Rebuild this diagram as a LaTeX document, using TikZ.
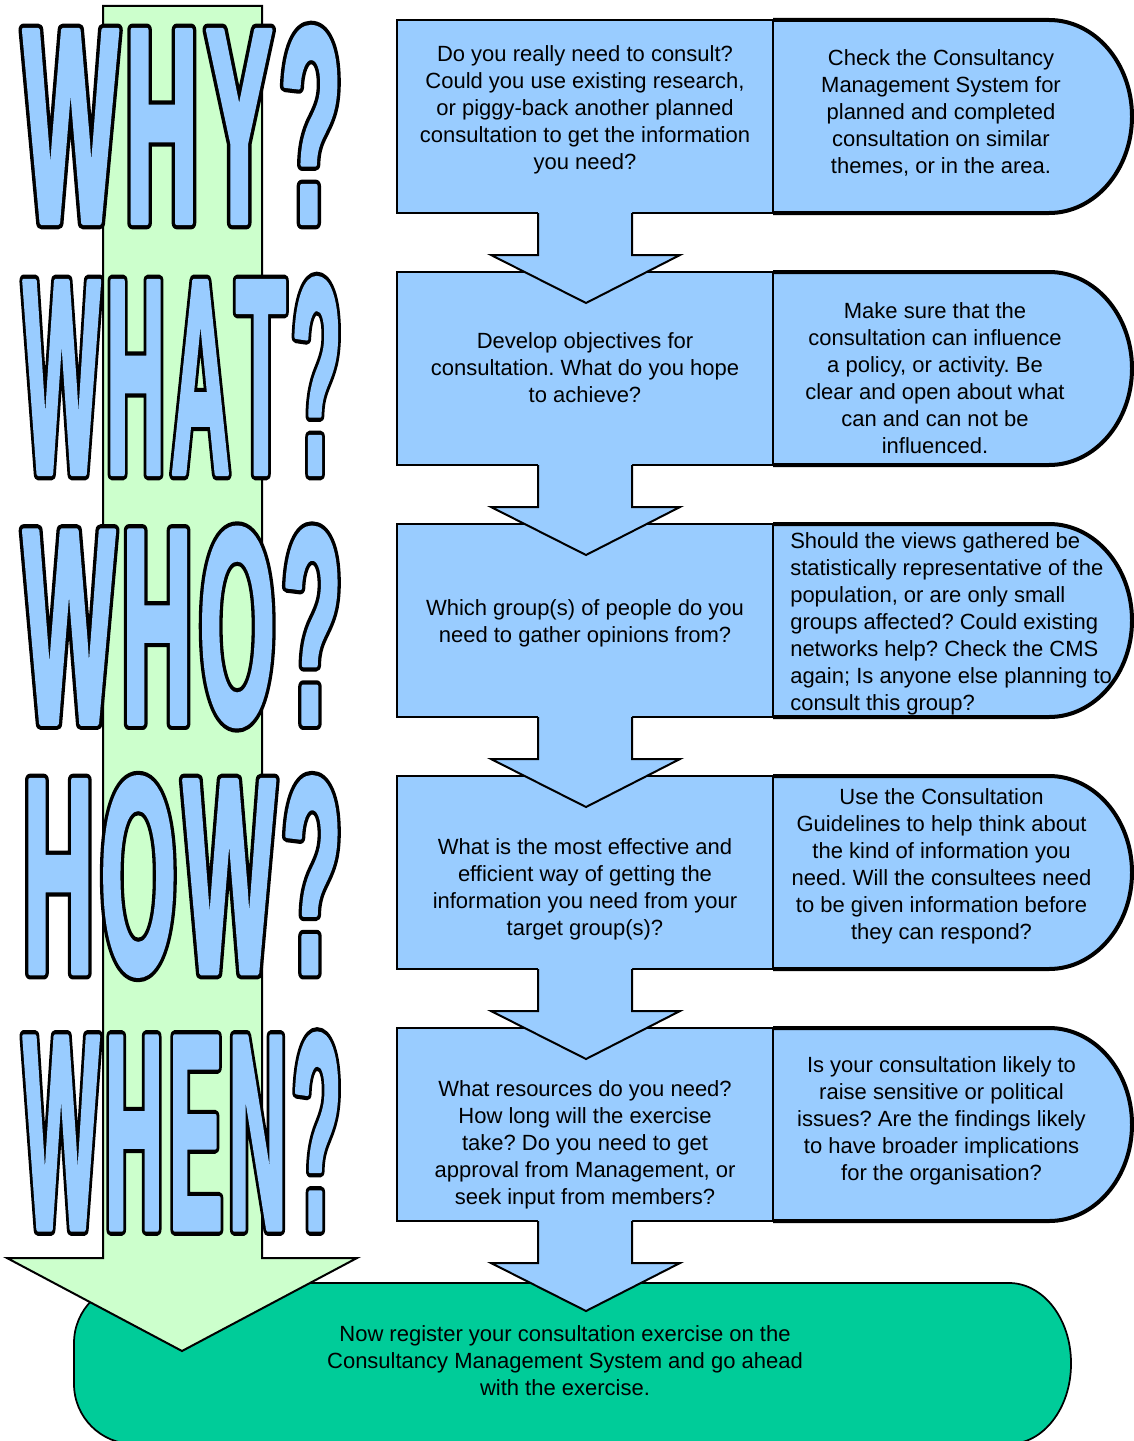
\documentclass[tikz,border=0pt]{standalone}
\usepackage{fontspec}
\setmainfont{Liberation Sans}
\newfontfamily\bigfont{Liberation Sans}[FakeStretch=0.44]
\definecolor{boxblue}{HTML}{99CCFF}
\definecolor{lightgreen}{HTML}{CCFFCC}
\definecolor{darkgreen}{HTML}{00CC99}
\newcommand\lsp{\kern7pt\relax}
\newcommand\bigword[1]{\resizebox{238.5pt}{147pt}{\bigfont\bfseries\fontsize{200pt}{200pt}\selectfont
  \rlap{\special{pdf:literal direct 2 Tr 0 0 0 rg 0 0 0 RG 9 w 1 j}#1}%
  \color{boxblue}\special{pdf:literal direct 2 Tr 3 w 1 j}#1\special{pdf:literal direct 0 Tr}}}
\begin{document}
\begin{tikzpicture}[x=0.75pt,y=-0.75pt,
  thinline/.style={line width=1.5pt},
  txt/.style={inner sep=0pt, align=center, font=\fontsize{16.5pt}{20.25pt}\selectfont\frenchspacing},
  txtl/.style={inner sep=0pt, align=left, anchor=west, font=\fontsize{16.5pt}{20.25pt}\selectfont\frenchspacing},
  word/.style={inner sep=0pt}]
\useasboundingbox (0,0) rectangle (1134,1441);
\clip (0,0) rectangle (1134,1441);

% final box
\path[fill=darkgreen, draw=black, line width=1.3pt]
  (134,1283) -- (1009,1283) arc[start angle=-90,end angle=0,x radius=62,y radius=80]
  -- (1071,1364) arc[start angle=0,end angle=90,x radius=62,y radius=80]
  -- (134,1444) arc[start angle=90,end angle=180,radius=60]
  -- (74,1343) arc[start angle=180,end angle=270,radius=60] -- cycle;

% blue rows
\foreach \k in {0,...,4}{
  \pgfmathsetmacro\T{20+252*\k}
  \pgfmathsetmacro\B{213+252*\k}
  \fill[boxblue] (760,\T) -- (1049,\T) arc[start angle=-90,end angle=90,x radius=83,y radius=96.5] -- (760,\B) -- cycle;
  \draw[line width=3pt] (773,\T) -- (1049,\T) arc[start angle=-90,end angle=90,x radius=83,y radius=96.5] -- (773,\B);
  \draw[thinline, fill=boxblue] (397,\T) rectangle (773,\B);
}
% blue arrows
\foreach \k in {0,...,4}{
  \pgfmathsetmacro\B{213+252*\k}
  \fill[boxblue] (538,\B-3) -- (538,\B+42) -- (491,\B+42) -- (586,\B+90) -- (680,\B+42) -- (632,\B+42) -- (632,\B-3) -- cycle;
  \draw[thinline] (538,\B) -- (538,\B+42) -- (491,\B+42) -- (586,\B+90) -- (680,\B+42) -- (632,\B+42) -- (632,\B);
}

% light green arrow
\draw[thinline, fill=lightgreen] (103,6) -- (262,6) -- (262,1258) -- (357,1258) -- (182,1351) -- (7,1258) -- (103,1258) -- cycle;

% big words
\node[word] (why)  at (182.5,125)   {\bigword{W\lsp H\lsp Y\lsp ?}};
\node[word] (what) at (182.5,376)   {\bigword{W\lsp H\lsp A\lsp T\lsp ?}};
\node[word] (who)  at (182.5,627)   {\bigword{W\lsp H\lsp O\lsp ?}};
\node[word] (how)  at (182.5,876.5) {\bigword{H\lsp O\lsp W\lsp ?}};
\node[word] (when) at (182.5,1131.5){\bigword{W\lsp H\lsp E\lsp N\lsp ?}};

% left texts
\node[txt] (l1) at (585,110) {Do you really need to consult?\\Could you use existing research,\\or piggy-back another planned\\consultation to get the information\\you need?};
\node[txt] (l2) at (585,368) {Develop objectives for\\consultation. What do you hope\\to achieve?};
\node[txt] (l3) at (585,623.5) {Which group(s) of people do you\\need to gather opinions from?};
\node[txt] (l4) at (585,889.5) {What is the most effective and\\efficient way of getting the\\information you need from your\\target group(s)?};
\node[txt] (l5) at (585,1145) {What resources do you need?\\How long will the exercise\\take? Do you need to get\\approval from Management, or\\seek input from members?};

% right texts
\node[txt] (r1) at (941,112.5) {Check the Consultancy\\Management System for\\planned and completed\\consultation on similar\\themes, or in the area.};
\node[txt] (r2) at (935,378.5) {Make sure that the\\consultation can influence\\a policy, or activity. Be\\clear and open about what\\can and can not be\\influenced.};
\node[txtl] (r3) at (790,624) {Should the views gathered be\\statistically representative of the\\population, or are only small\\groups affected? Could existing\\networks help? Check the CMS\\again; Is anyone else planning to\\consult this group?};
\node[txt] (r4) at (941.5,866) {Use the Consultation\\Guidelines to help think about\\the kind of information you\\need. Will the consultees need\\to be given information before\\they can respond?};
\node[txt] (r5) at (941.5,1121) {Is your consultation likely to\\raise sensitive or political\\issues? Are the findings likely\\to have broader implications\\for the organisation?};

% final text
\node[txt] (fin) at (565,1361) {Now register your consultation exercise on the\\Consultancy Management System and go ahead\\with the exercise.};
\end{tikzpicture}
\end{document}
